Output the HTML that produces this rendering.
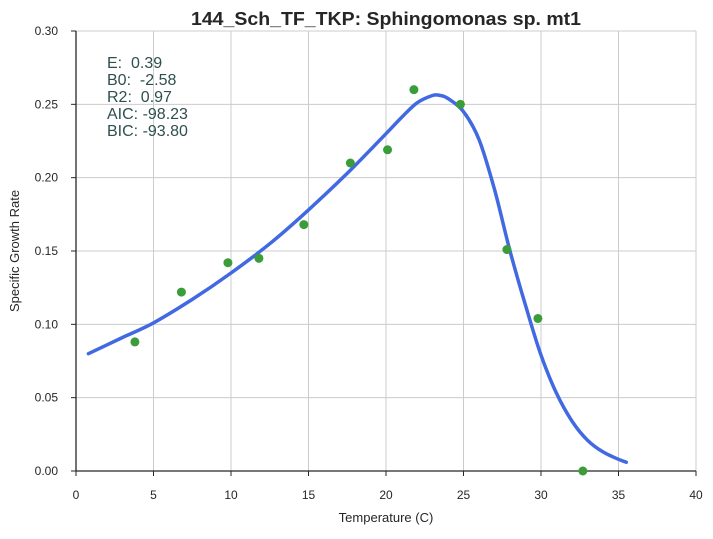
<!DOCTYPE html>
<html><head><meta charset="utf-8"><style>
body{margin:0;background:#fff;font-family:"Liberation Sans",sans-serif}
svg text{font-family:"Liberation Sans",sans-serif;white-space:pre}
</style></head><body>
<svg id="c" width="713" height="534" xmlns="http://www.w3.org/2000/svg">
<text x="386" y="25" text-anchor="middle" font-size="18" font-weight="bold" fill="#262626" textLength="390" lengthAdjust="spacingAndGlyphs">144_Sch_TF_TKP: Sphingomonas sp. mt1</text>
<text x="386" y="522" text-anchor="middle" font-size="13" fill="#262626">Temperature (C)</text>
<text transform="translate(19,251) rotate(-90)" text-anchor="middle" font-size="13" fill="#262626">Specific Growth Rate</text>
<g id="grid"></g><g id="axes"></g><g id="marks"></g>
<g font-size="16" fill="#2f4f4f">
<text x="107" y="68">E:  0.39</text>
<text x="107" y="85">B0:  -2.58</text>
<text x="107" y="102">R2:  0.97</text>
<text x="107" y="119">AIC: -98.23</text>
<text x="107" y="136">BIC: -93.80</text>
</g>
</svg>
<script>
const xTicks=[0,5,10,15,20,25,30,35,40];
const yTicks=[0,0.05,0.10,0.15,0.20,0.25,0.30];
const obsTemp=[3.8,6.8,9.8,11.8,14.7,17.7,20.1,21.8,24.8,27.8,29.8,32.7];
const obsRate=[0.088,0.122,0.142,0.145,0.168,0.210,0.219,0.260,0.250,0.151,0.104,0.0];
const fitTemp=[0.8,3,5,7.5,10,12.5,15,17.5,20,21,22,23,23.5,24,25,26,27,28,29,30,31,32,33,34,35,35.5];
const fitRate=[0.080,0.091,0.101,0.117,0.135,0.155,0.178,0.203,0.230,0.241,0.251,0.256,0.256,0.254,0.245,0.226,0.192,0.150,0.113,0.079,0.053,0.034,0.021,0.013,0.008,0.006];
const X=v=>76+v*15.5, Y=v=>471-v*(440/0.30);
const ns="http://www.w3.org/2000/svg";
function mk(t,a,p){const e=document.createElementNS(ns,t);for(const k in a)e.setAttribute(k,a[k]);p.appendChild(e);return e;}
const g=document.getElementById('grid'),ax=document.getElementById('axes'),m=document.getElementById('marks');
xTicks.forEach(t=>{
 const l=mk('line',{x1:X(t),x2:X(t),y1:31,y2:471,stroke:'#cccccc','stroke-width':1},g);
 
 
 mk('line',{x1:X(t),x2:X(t),y1:471,y2:476,stroke:'#262626'},ax);
 const tx=mk('text',{x:X(t),y:499,'text-anchor':'middle','font-size':12,fill:'#262626'},ax);tx.textContent=t;
 
 
});
yTicks.forEach(t=>{
 const l=mk('line',{x1:76,x2:696,y1:Y(t),y2:Y(t),stroke:'#cccccc','stroke-width':1},g);
 
 
 mk('line',{x1:71,x2:76,y1:Y(t),y2:Y(t),stroke:'#262626'},ax);
 const tx=mk('text',{x:58,y:Y(t)+4,'text-anchor':'end','font-size':12,fill:'#262626'},ax);tx.textContent=t.toFixed(2);
 
 
});
const sp=mk('path',{d:'M76 31V471H696',fill:'none',stroke:'#262626','stroke-width':1.3},ax);


const P=fitTemp.map((t,i)=>[X(t),Y(fitRate[i])]);
let d='M'+P[0][0].toFixed(1)+' '+P[0][1].toFixed(1);
for(let i=0;i<P.length-1;i++){
 const p0=P[Math.max(0,i-1)],p1=P[i],p2=P[i+1],p3=P[Math.min(P.length-1,i+2)];
 const c1=[p1[0]+(p2[0]-p0[0])/6,p1[1]+(p2[1]-p0[1])/6];
 const c2=[p2[0]-(p3[0]-p1[0])/6,p2[1]-(p3[1]-p1[1])/6];
 d+='C'+c1.map(v=>v.toFixed(1)).join(' ')+' '+c2.map(v=>v.toFixed(1)).join(' ')+' '+p2.map(v=>v.toFixed(1)).join(' ');
}
const fl=mk('path',{d:d,fill:'none',stroke:'#4169e1','stroke-width':3.5,'stroke-linejoin':'round','stroke-linecap':'round'},m);


obsTemp.forEach((t,i)=>{
 const c=mk('circle',{cx:X(t),cy:Y(obsRate[i]),r:4.5,fill:'#3a9d3a'},m);
 
 
});
</script>
</body></html>
